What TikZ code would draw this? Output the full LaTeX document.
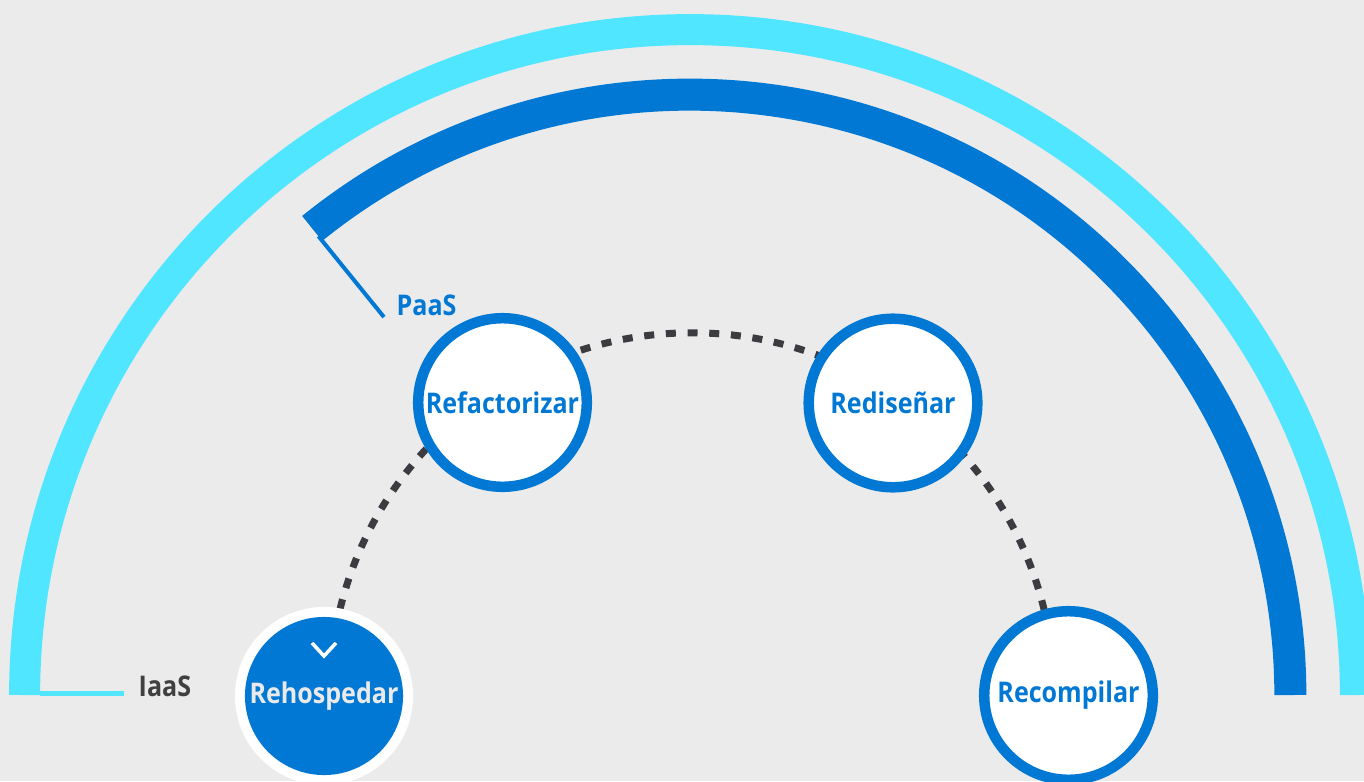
\documentclass[tikz,border=0pt]{standalone}
\usepackage{fontspec}
\setmainfont{Open Sans}
\newfontfamily\lblfont{Open Sans}[FakeStretch=0.88]
\usetikzlibrary{calc}
\definecolor{bg}{HTML}{EBEBEB}
\definecolor{cyanb}{HTML}{50E6FF}
\definecolor{azure}{HTML}{0078D4}
\definecolor{dotc}{HTML}{3B3B40}
\definecolor{txtgray}{HTML}{404040}
\definecolor{lighttxt}{HTML}{EAEAEA}
\begin{document}
\begin{tikzpicture}[x=0.01cm,y=0.01cm,
  lbl/.style={font=\lblfont\bfseries\fontsize{8.1}{9}\selectfont, inner sep=0pt},
  ringnode/.style={lbl, circle, draw=azure, line width=0.105cm, fill=white,
    minimum size=1.685cm, text=azure},
  dotarc/.style={draw=dotc, line width=0.07cm, dash pattern=on 0.10cm off 0.117cm},
]
\fill[bg] (0,0) rectangle (1364,781);
\useasboundingbox (0,0) rectangle (1364,781);
\coordinate (bigC) at (690,86);
\coordinate (dotC) at (692,86);
% outer light-blue arc (IaaS)
\draw[cyanb, line width=0.31cm] (bigC) ++(180:6.65cm) arc[start angle=180, end angle=0, radius=6.65cm];
\coordinate (iaasEnd) at (124,87.5);
\draw[cyanb, line width=0.045cm] (40,87.5) -- (iaasEnd);
% dark blue arc (PaaS)
\draw[azure, line width=0.32cm] (bigC) ++(129:6.0cm) arc[start angle=129, end angle=0, radius=6.0cm];
\draw[azure, line width=0.04cm] (bigC) ++(129:5.9cm) -- ++(129:-1.04cm) coordinate (paasEnd);
% labels
\node[lbl, anchor=west, text=txtgray] (iaas) at (138,95) {IaaS};
\node[lbl, anchor=west, text=azure] (paas) at (396,476) {PaaS};
% dotted path
\draw[dotarc] (dotC) ++(180:3.62cm) arc[start angle=180, end angle=0, radius=3.62cm];
% circles
\node[ringnode] (refac) at (502.5,378.5) {Refactorizar};
\node[ringnode] (redis) at (893,378) {Redise\~nar};
\node[ringnode] (recomp) at (1068.5,85.5) {Recompilar};
\node[circle, fill=white, minimum size=1.78cm, inner sep=0pt] (rehoW) at (324,85) {};
\node[lbl, circle, fill=azure, minimum size=1.58cm, text=lighttxt] (reho) at (324,85) {Rehospedar};
\draw[white, line width=0.035cm] ($(reho)+(-12,53)$) -- ($(reho)+(0,40)$) -- ($(reho)+(12,53)$);
\end{tikzpicture}
\end{document}
